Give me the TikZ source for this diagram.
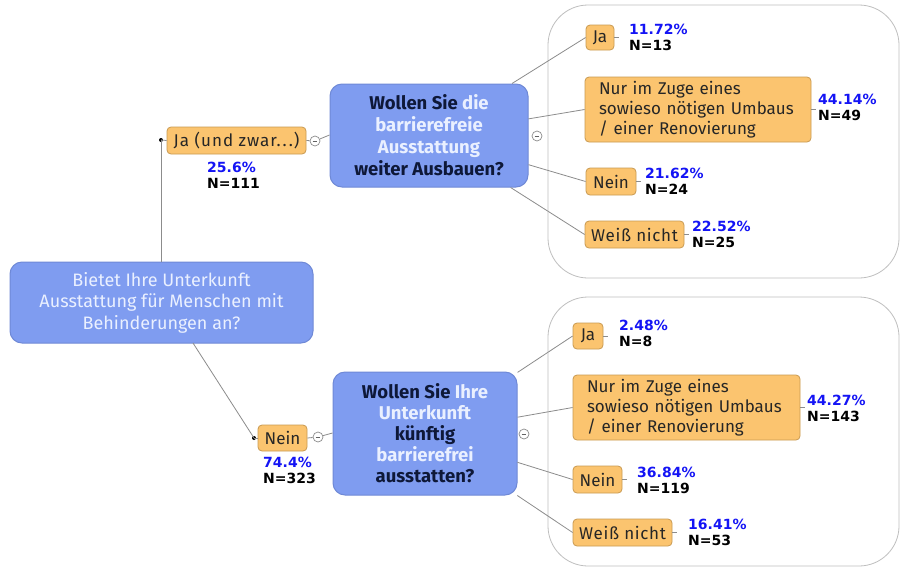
\documentclass[tikz,border=0pt]{standalone}
\usepackage{fontspec}
\setmainfont{Fira Sans}
\newfontfamily\pctfont{DejaVu Sans}
\definecolor{qblue}{HTML}{7F9CF0}
\definecolor{qborder}{HTML}{6F89D6}
\definecolor{qdark}{HTML}{0E1838}
\definecolor{qlight}{HTML}{EAF0FF}
\definecolor{afill}{HTML}{FBC46F}
\definecolor{aborder}{HTML}{C99A52}
\definecolor{pblue}{HTML}{1414F5}
\definecolor{lgray}{HTML}{8C8C8C}
\tikzset{
    question/.style={draw=qborder,fill=qblue,rounded corners=12pt,line width=1pt,
        align=center,font=\fontsize{18.5}{22}\selectfont\bfseries,text=qlight,inner sep=0pt},
    answer/.style={draw=aborder,fill=afill,rounded corners=4pt,line width=0.8pt,
        font=\fontsize{17}{20}\selectfont,text=black!85,inner sep=0pt},
    pct/.style={align=left,font=\pctfont\fontsize{14}{16}\selectfont\bfseries,inner sep=0pt,anchor=west},
    toggle/.style={circle,draw=lgray,fill=white,minimum size=10pt,inner sep=0pt,line width=0.7pt},
    group/.style={draw=black!25,line width=0.8pt,rounded corners=40pt},
    link/.style={draw=lgray,line width=0.8pt}
}
\newcommand{\dk}[1]{\textcolor{qdark}{#1}}
\newcommand{\pc}[2]{\textcolor{pblue}{#1}\\N=#2}
\begin{document}
\begin{tikzpicture}[x=1pt,y=-1pt]
    \useasboundingbox[fill=white] (0,0) rectangle (901,568);
    % groups of answers
    \draw[group] (548,5) rectangle (899,278);
    \draw[group] (548,297) rectangle (899,566);

    % main question
    \node[question,minimum width=303pt,minimum height=81pt,font=\fontsize{18}{21.5}\selectfont\mdseries,text=qlight]
        (root) at (161.5,302.5) {Bietet Ihre Unterkunft\\Ausstattung f\"ur Menschen mit\\Behinderungen an?};

    % first level
    \node[answer,minimum width=139pt,minimum height=27pt] (jaA) at (236.5,140.5)
        {\addfontfeatures{LetterSpace=6}Ja (und zwar.\kern2pt.\kern2pt.)};
    \node[answer,minimum width=49pt,minimum height=26pt] (neinA) at (282.5,438) {Nein};
    \node[pct] (pjaA) at (207,175) {\pc{25.6\%}{111}};
    \node[pct] (pneinA) at (263,470) {\pc{74.4\%}{323}};

    \fill (161,140) circle (2pt) coordinate (d1);
    \fill (254,438) circle (2pt) coordinate (d2);
    \draw[link] (d1) -- (jaA.west);
    \draw[link] (d2) -- (neinA.west);
    \draw[link] (root.north -| d1) -- (d1);
    \draw[link] (193,343) coordinate (r2) -- (d2);

    % follow-up questions
    \node[question,minimum width=198pt,minimum height=103pt] (q1) at (429,135.5)
        {\dk{Wollen Sie} die\\barrierefreie\\Ausstattung\\\dk{weiter Ausbauen?}};
    \node[question,minimum width=184pt,minimum height=123pt,font=\fontsize{18.5}{21}\selectfont\bfseries] (q2) at (425,433.5)
        {\dk{Wollen Sie} Ihre\\Unterkunft\\\dk{k\"unftig}\\barrierefrei\\\dk{ausstatten?}};

    \node[toggle] (t1) at (315,141) {};
    \node[toggle] (t2) at (318,437) {};
    \node[toggle] (t3) at (537,136) {};
    \node[toggle] (t4) at (524,434) {};
    \foreach \t in {t1,t2,t3,t4}{
        \draw[lgray!70!black,line width=1pt] ([xshift=-2.4pt]\t.center) -- ([xshift=2.4pt]\t.center);
    }
    \draw[link] (jaA.east) -- (t1);
    \draw[link] (t1) -- (q1.west |- 0,135);
    \draw[link] (neinA.east) -- (t2);
    \draw[link] (t2) -- (q2.west |- 0,433);

    % answers, first question
    \node[answer,minimum width=28pt,minimum height=25pt] (ja1) at (600,37.5) {Ja};
    \node[answer,minimum width=226pt,minimum height=65pt,align=left,text width=198pt] (nur1) at (698,109.5)
        {Nur im Zuge eines\\sowieso n\"otigen Umbaus\\/ einer Renovierung};
    \node[answer,minimum width=50pt,minimum height=27pt] (nein1) at (611,181.5) {Nein};
    \node[answer,minimum width=99pt,minimum height=27pt] (weiss1) at (634.5,234.5)
        {\addfontfeatures{LetterSpace=4}Wei\ss{} nicht};
    \node[pct] (pja1) at (629,37) {\pc{11.72\%}{13}};
    \node[pct] (pnur1) at (818,107) {\pc{44.14\%}{49}};
    \node[pct] (pnein1) at (645,181) {\pc{21.62\%}{24}};
    \node[pct] (pweiss1) at (692,234) {\pc{22.52\%}{25}};

    % answers, second question
    \node[answer,minimum width=30pt,minimum height=26pt] (ja2) at (588,336) {Ja};
    \node[answer,minimum width=227pt,minimum height=65pt,align=left,text width=199pt] (nur2) at (686.5,407.5)
        {Nur im Zuge eines\\sowieso n\"otigen Umbaus\\/ einer Renovierung};
    \node[answer,minimum width=49pt,minimum height=27pt] (nein2) at (597.5,479.5) {Nein};
    \node[answer,minimum width=99pt,minimum height=27pt] (weiss2) at (622.5,532.5)
        {\addfontfeatures{LetterSpace=4}Wei\ss{} nicht};
    \node[pct] (pja2) at (619,333) {\pc{2.48\%}{8}};
    \node[pct] (pnur2) at (807,408) {\pc{44.27\%}{143}};
    \node[pct] (pnein2) at (637,480) {\pc{36.84\%}{119}};
    \node[pct] (pweiss2) at (688,532) {\pc{16.41\%}{53}};

    \foreach \a in {ja1,nur1,nein1,weiss1}{
        \draw[link] (q1) -- (\a.west);
        \draw[link] (\a.east) -- ++(5pt,0);
    }
    \foreach \a in {ja2,nur2,nein2,weiss2}{
        \draw[link] (q2) -- (\a.west);
        \draw[link] (\a.east) -- ++(5pt,0);
    }
\end{tikzpicture}
\end{document}
